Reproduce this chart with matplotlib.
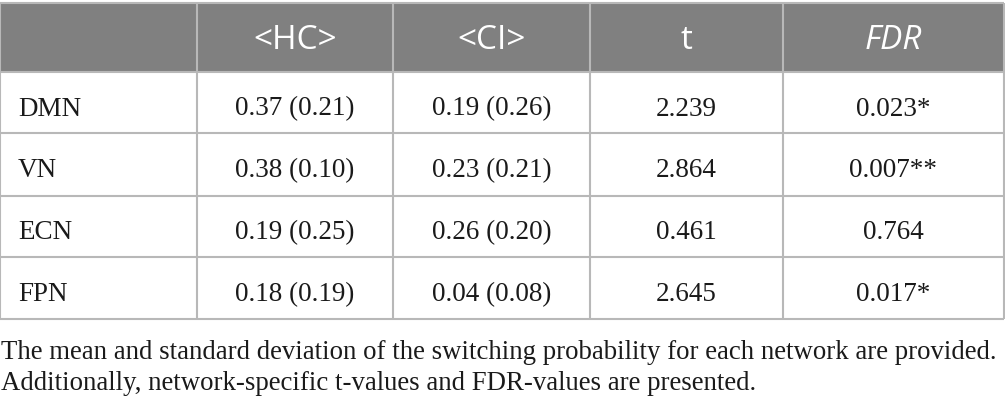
import matplotlib
matplotlib.use("Agg")
import matplotlib.pyplot as plt
from matplotlib.patches import Rectangle

# ---- data ----
headers = ["", "<HC>", "<CI>", "t", "FDR"]
networks = ["DMN", "VN", "ECN", "FPN"]
hc_mean = [0.37, 0.38, 0.19, 0.18]
hc_sd = [0.21, 0.10, 0.25, 0.19]
ci_mean = [0.19, 0.23, 0.26, 0.04]
ci_sd = [0.26, 0.21, 0.20, 0.08]
t_vals = ["2.239", "2.864", "0.461", "2.645"]
fdr_vals = ["0.023*", "0.007**", "0.764", "0.017*"]
caption = ["The mean and standard deviation of the switching probability for each network are provided.",
           "Additionally, network-specific t-values and FDR-values are presented."]

# ---- layout (pixels) ----
W, H = 1005, 410
col_edges = [0, 197, 393, 590, 783, 1004]
row_edges = [4, 73, 134, 197, 258, 320]
header_bg = "#808080"
line_col = "#b8b8b8"
text_col = "#1a1a1a"
serif = "Liberation Serif"
sans = "Open Sans"
body_fs = 19.5
head_fs = 24

fig = plt.figure(figsize=(W / 100, H / 100), dpi=100)
ax = fig.add_axes([0, 0, 1, 1])
ax.set_xlim(0, W)
ax.set_ylim(H, 0)
ax.axis("off")

# header background
ax.add_patch(Rectangle((col_edges[0], row_edges[0]), col_edges[-1] - col_edges[0],
                       row_edges[1] - row_edges[0], facecolor=header_bg, edgecolor="none"))

# grid lines
for y in row_edges:
    ax.plot([col_edges[0], col_edges[-1]], [y, y], color=line_col, lw=1.5, solid_capstyle="butt")
for x in col_edges:
    ax.plot([x, x], [row_edges[0], row_edges[-1]], color=line_col, lw=1.5, solid_capstyle="butt")

# header text
hy = (row_edges[0] + row_edges[1]) / 2 + 10.5
for i, h in enumerate(headers):
    if not h:
        continue
    cx = (col_edges[i] + col_edges[i + 1]) / 2
    ax.text(cx, hy, h, ha="center", va="baseline", color="white", fontsize=head_fs,
            family=sans, style="italic" if h == "FDR" else "normal")

# body text
for r, net in enumerate(networks):
    cy = (row_edges[r + 1] + row_edges[r + 2]) / 2 + 12
    cells = [net,
             f"{hc_mean[r]:.2f} ({hc_sd[r]:.2f})",
             f"{ci_mean[r]:.2f} ({ci_sd[r]:.2f})",
             t_vals[r],
             fdr_vals[r]]
    for c, txt in enumerate(cells):
        if c == 0:
            ax.text(18, cy, txt, ha="left", va="baseline", color=text_col, fontsize=body_fs, family=serif)
        else:
            cx = (col_edges[c] + col_edges[c + 1]) / 2
            ax.text(cx, cy, txt, ha="center", va="baseline", color=text_col, fontsize=body_fs, family=serif)

# caption
for k, line in enumerate(caption):
    ax.text(1, 359 + k * 31.5, line, ha="left", va="baseline", color=text_col, fontsize=19.3, family=serif)

fig.savefig("out.png", dpi=100)
